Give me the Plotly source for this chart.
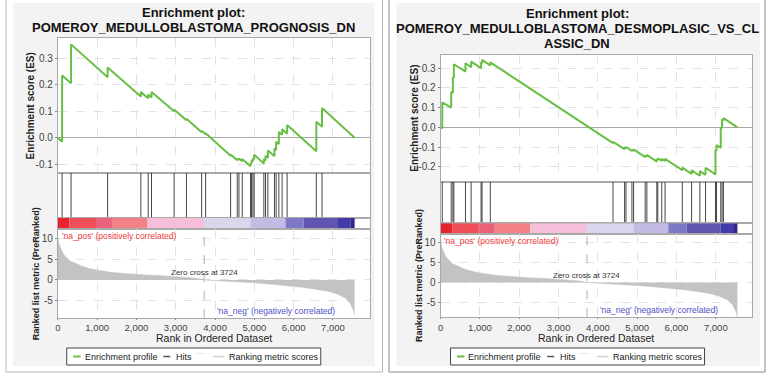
import plotly.graph_objects as go

W, H = 767, 379

# ---------------- data ----------------
n_genes = 7550
zero_cross = 3724

metric_rank = [0, 10, 30, 60, 100, 150, 210, 300, 465, 600, 800, 1000, 1400, 1800, 2240, 2700,
               3085, 3400, 3677, 3724, 4000, 4523, 5000, 5368, 5800, 6213, 6600, 6890, 7100,
               7313, 7420, 7482, 7520, 7550]
metric_value = [10.8, 9.8, 8.9, 8.0, 7.0, 6.2, 5.6, 4.7, 4.0, 3.4, 2.8, 2.4, 1.8, 1.45, 1.2, 1.0,
                0.8, 0.55, 0.2, 0.0, -0.15, -0.4, -0.7, -1.0, -1.35, -1.8, -2.3, -2.8, -3.4,
                -4.4, -5.4, -6.4, -7.3, -8.6]

cbar_start = [0, 296, 972, 1378, 2283, 3720, 4904, 5791, 6256, 7127, 7440]
cbar_end = [296, 972, 1378, 2283, 3720, 4904, 5791, 6256, 7127, 7440, 7550]
cbar_color = ["rgb(233,35,45)", "rgb(240,78,88)", "rgb(232,98,122)", "rgb(243,130,134)",
              "rgb(246,190,216)", "rgb(216,213,236)", "rgb(196,187,228)", "rgb(126,121,196)",
              "rgb(96,86,176)", "rgb(66,60,170)", "rgb(55,36,140)"]

left_title = ["Enrichment plot:", "POMEROY_MEDULLOBLASTOMA_PROGNOSIS_DN"]
left_hits = [110, 338, 1268, 2113, 2300, 2384, 2959, 3272, 3660, 3761, 4396, 4565, 4608, 4692,
             4903, 4928, 4963, 4996, 5242, 5284, 5344, 5512, 5554, 5623, 5706, 5833, 6576, 6721]
left_es_rank = [0, 110, 110, 338, 338, 1268, 1268, 2113, 2113, 2300, 2300, 2384, 2384, 2959, 2959,
                3272, 3272, 3660, 3660, 3761, 3761, 4396, 4396, 4565, 4565, 4608, 4608, 4692, 4692,
                4903, 4903, 4928, 4928, 4963, 4963, 4996, 4996, 5242, 5242, 5284, 5284, 5344, 5344,
                5512, 5512, 5554, 5554, 5623, 5623, 5706, 5706, 5833, 5833, 6576, 6576, 6721, 6721,
                7550]
left_es_value = [0.0, -0.015, 0.235, 0.205, 0.352, 0.228, 0.265, 0.155, 0.172, 0.149, 0.163, 0.152,
                 0.172, 0.100, 0.106, 0.066, 0.072, 0.021, 0.026, 0.013, 0.017, -0.068, -0.063,
                 -0.085, -0.078, -0.084, -0.078, -0.089, -0.080, -0.108, -0.095, -0.098, -0.085,
                 -0.090, -0.077, -0.081, -0.064, -0.097, -0.080, -0.086, -0.068, -0.076, -0.048,
                 -0.070, -0.040, -0.046, -0.015, -0.024, 0.022, 0.011, 0.032, 0.015, 0.048,
                 -0.051, 0.060, 0.041, 0.112, 0.0]

right_title = ["Enrichment plot:", "POMEROY_MEDULLOBLASTOMA_DESMOPLASIC_VS_CL", "ASSIC_DN"]
right_hits = [43, 271, 313, 338, 633, 777, 1030, 1055, 1265, 4386, 4680, 4716, 4867, 4909, 5204,
              5247, 5500, 5525, 5626, 5710, 6148, 6385, 6595, 6739, 6992, 7018, 7126, 7160, 7195]
right_es_rank = [0, 43, 43, 271, 271, 313, 313, 338, 338, 633, 633, 777, 777, 1030, 1030, 1055,
                 1055, 1265, 1265, 4386, 4386, 4680, 4680, 4716, 4716, 4867, 4867, 4909, 4909,
                 5204, 5204, 5247, 5247, 5500, 5500, 5525, 5525, 5626, 5626, 5710, 5710, 6148,
                 6148, 6385, 6385, 6595, 6595, 6739, 6739, 6992, 6992, 7018, 7018, 7126, 7126,
                 7160, 7160, 7195, 7195, 7550]
right_es_value = [0.0, -0.005, 0.127, 0.100, 0.180, 0.175, 0.255, 0.252, 0.320, 0.283, 0.325,
                  0.305, 0.333, 0.300, 0.330, 0.327, 0.342, 0.314, 0.330, -0.080, -0.074, -0.111,
                  -0.101, -0.106, -0.100, -0.120, -0.114, -0.120, -0.112, -0.151, -0.143, -0.149,
                  -0.140, -0.174, -0.162, -0.165, -0.157, -0.170, -0.160, -0.171, -0.160, -0.218,
                  -0.205, -0.236, -0.218, -0.246, -0.222, -0.241, -0.205, -0.239, -0.115, -0.118,
                  -0.090, -0.104, 0.000, -0.004, 0.040, 0.035, 0.047, 0.0]

x_tick_vals = [0, 1000, 2000, 3000, 4000, 5000, 6000, 7000]
x_tick_text = ["0", "1,000", "2,000", "3,000", "4,000", "5,000", "6,000", "7,000"]
left_es_ticks = [-0.1, 0.0, 0.1, 0.2, 0.3]
left_es_ticktext = ["-0.1", "0.0", "0.1", "0.2", "0.3"]
right_es_ticks = [-0.2, -0.1, 0.0, 0.1, 0.2, 0.3]
right_es_ticktext = ["-0.2", "-0.1", "0.0", "0.1", "0.2", "0.3"]
metric_ticks = [-5, 0, 5, 10]
metric_ticktext = ["-5", "0", "5", "10"]

legend_labels = ["Enrichment profile", "Hits", "", "Ranking metric scores"]

# ---------------- styling ----------------
FONT = "Liberation Sans"
GREEN = "#69bf44"
GRID = "#e2e2e2"
FRAME = "#a9a9a9"
X_RANGE = [0, 7930]

fig = go.Figure()
shapes = []
annotations = []


def px(x):
    return x / W


def py(y):
    return 1 - y / H


def ax_names(i):
    s = "" if i == 1 else str(i)
    return "xaxis" + s, "yaxis" + s, "x" + s, "y" + s


def add_panel(k, xpx, ypx, title_lines, title_y, title_cx, es_rank, es_val, hits,
              es_range, es_ticks, es_ticktext, met_range, es_title_x, met_title_x,
              legend_x0, frame_box, inner_box, frame_color):
    # frames (decorative)
    fx0, fy0, fx1, fy1 = frame_box
    shapes.append(dict(type="rect", xref="paper", yref="paper", x0=px(fx0), x1=px(fx1),
                       y0=py(fy1), y1=py(fy0), line=dict(color=frame_color, width=1),
                       fillcolor="white", layer="below"))
    ix0, iy0, ix1, iy1 = inner_box
    shapes.append(dict(type="rect", xref="paper", yref="paper", x0=px(ix0), x1=px(ix1),
                       y0=py(iy1), y1=py(iy0), line=dict(width=0),
                       fillcolor="#f3f3f3", layer="below"))

    ids = [k, k + 1, k + 2, k + 3]
    names = [ax_names(i) for i in ids]
    xdom = [px(xpx[0]), px(xpx[1])]
    for j, (xa, ya, xr, yr) in enumerate(names):
        y0, y1 = ypx[j], ypx[j + 1]
        shapes.append(dict(type="rect", xref=xr + " domain", yref=yr + " domain",
                           x0=0, x1=1, y0=0, y1=1, fillcolor="white",
                           line=dict(width=0), layer="below"))
        xaxis = dict(domain=xdom, anchor=yr, range=X_RANGE, showline=True, mirror=True,
                     linecolor=FRAME, linewidth=1, zeroline=False, showticklabels=False,
                     ticks="", showgrid=False, tickvals=x_tick_vals, fixedrange=True)
        yaxis = dict(domain=[py(y1), py(y0)], anchor=xr, showline=True, mirror=True,
                     linecolor=FRAME, linewidth=1, zeroline=False, showticklabels=False,
                     ticks="", showgrid=False, fixedrange=True)
        if j == 0:
            xaxis.update(showgrid=True, gridcolor=GRID, griddash="dash", gridwidth=1)
            yaxis.update(range=es_range, tickvals=es_ticks, ticktext=es_ticktext,
                         showticklabels=True, ticks="outside", ticklen=2, tickcolor="#888",
                         tickfont=dict(size=10, color="#444", family=FONT),
                         showgrid=True, gridcolor=GRID, griddash="dash",
                         zeroline=True, zerolinecolor="#a8a8a8", zerolinewidth=1)
        elif j in (1, 2):
            yaxis.update(range=[0, 1])
        else:
            xaxis.update(showgrid=True, gridcolor=GRID, griddash="dash", showticklabels=True,
                         ticktext=x_tick_text, ticks="outside", ticklen=1, tickcolor="#888",
                         tickfont=dict(size=9.5, color="#444", family=FONT))
            yaxis.update(range=met_range, tickvals=metric_ticks, ticktext=metric_ticktext,
                         showticklabels=True, ticks="outside", ticklen=2, tickcolor="#888",
                         tickfont=dict(size=10, color="#444", family=FONT),
                         showgrid=True, gridcolor=GRID, griddash="dash")
        fig.layout[xa] = xaxis
        fig.layout[ya] = yaxis

    # ES curve
    fig.add_trace(go.Scatter(x=es_rank, y=es_val, mode="lines", name="Enrichment profile",
                             line=dict(color=GREEN, width=2), xaxis=names[0][2],
                             yaxis=names[0][3], showlegend=False, hoverinfo="skip"))
    # hits
    hx, hy = [], []
    for r in hits:
        hx += [r, r, None]
        hy += [0.0, 1.0, None]
    fig.add_trace(go.Scatter(x=hx, y=hy, mode="lines", name="Hits",
                             line=dict(color="rgba(25,25,25,0.8)", width=1),
                             xaxis=names[1][2], yaxis=names[1][3], showlegend=False,
                             hoverinfo="skip"))
    # colour bar
    fig.add_trace(go.Bar(orientation="h", base=cbar_start,
                         x=[e - s for s, e in zip(cbar_start, cbar_end)],
                         y=[0.5] * len(cbar_start), width=1.0,
                         marker=dict(color=cbar_color, line=dict(width=0)),
                         xaxis=names[2][2], yaxis=names[2][3], showlegend=False,
                         hoverinfo="skip"))
    # ranked metric
    fig.add_trace(go.Scatter(x=metric_rank, y=metric_value, mode="lines", fill="tozeroy",
                             name="Ranking metric scores",
                             line=dict(color="#c3c3c3", width=0.5), fillcolor="#c3c3c3",
                             xaxis=names[3][2], yaxis=names[3][3], showlegend=False,
                             hoverinfo="skip"))
    fig.add_trace(go.Scatter(x=[zero_cross, zero_cross], y=met_range, mode="lines",
                             line=dict(color="#b0b0b0", width=1, dash="dash"),
                             xaxis=names[3][2], yaxis=names[3][3], showlegend=False,
                             hoverinfo="skip"))
    annotations.append(dict(x=zero_cross, y=1.8, xref=names[3][2], yref=names[3][3],
                            text="Zero cross at " + str(zero_cross), showarrow=False,
                            xanchor="center", yanchor="middle",
                            font=dict(size=8, color="#333", family=FONT)))
    annotations.append(dict(x=0.006, y=1.0, xref=names[3][2] + " domain",
                            yref=names[3][3] + " domain",
                            text="'na_pos' (positively correlated)", showarrow=False,
                            xanchor="left", yanchor="top",
                            font=dict(size=8.5, color="#f03a3a", family=FONT)))
    annotations.append(dict(x=0.505, y=0.0, xref=names[3][2] + " domain",
                            yref=names[3][3] + " domain",
                            text="'na_neg' (negatively correlated)", showarrow=False,
                            xanchor="left", yanchor="bottom",
                            font=dict(size=8.5, color="#5151c6", family=FONT)))

    # titles
    for line, ty in zip(title_lines, title_y):
        annotations.append(dict(x=px(title_cx), y=py(ty), xref="paper", yref="paper",
                                text="<b>" + line + "</b>", showarrow=False,
                                xanchor="center", yanchor="middle",
                                font=dict(size=13, color="#111", family=FONT)))
    annotations.append(dict(x=px(es_title_x), y=py((ypx[0] + ypx[1]) / 2), xref="paper",
                            yref="paper", text="<b>Enrichment score (ES)</b>",
                            textangle=-90, showarrow=False, xanchor="center",
                            yanchor="middle", font=dict(size=10, color="#222", family=FONT)))
    annotations.append(dict(x=px(met_title_x), y=py((ypx[3] + ypx[4]) / 2), xref="paper",
                            yref="paper", text="<b>Ranked list metric (PreRanked)</b>",
                            textangle=-90, showarrow=False, xanchor="center",
                            yanchor="middle", font=dict(size=9, color="#222", family=FONT)))
    annotations.append(dict(x=px((xpx[0] + xpx[1]) / 2), y=py(338), xref="paper",
                            yref="paper", text="Rank in Ordered Dataset", showarrow=False,
                            xanchor="center", yanchor="middle",
                            font=dict(size=10.5, color="#222", family=FONT)))

    # legend box (drawn)
    lx = legend_x0
    shapes.append(dict(type="rect", xref="paper", yref="paper", x0=px(lx), x1=px(lx + 255),
                       y0=py(365), y1=py(348), line=dict(color="#444", width=1),
                       fillcolor="white", layer="above"))
    ly = 356.5
    items = [(6.5, 14, GREEN, 2, 16, legend_labels[0]),
             (97, 104, "#555", 1.5, 108, legend_labels[1]),
             (129, 139, "#ececec", 1.5, None, legend_labels[2]),
             (147, 158, "#d0d0d0", 1.5, 161, legend_labels[3])]
    for a, b, col, wdt, tx, lab in items:
        yy = ly - 3 if tx is None else ly
        shapes.append(dict(type="line", xref="paper", yref="paper", x0=px(lx + a),
                           x1=px(lx + b), y0=py(yy), y1=py(yy),
                           line=dict(color=col, width=wdt), layer="above"))
        if tx is not None:
            annotations.append(dict(x=px(lx + tx), y=py(ly), xref="paper", yref="paper",
                                    text=lab, showarrow=False, xanchor="left",
                                    yanchor="middle",
                                    font=dict(size=9, color="#222", family=FONT)))


add_panel(1, (55, 368), (38, 173, 218, 229, 318), left_title, (12, 27), 191,
          left_es_rank, left_es_value, left_hits, [-0.133, 0.376], left_es_ticks,
          left_es_ticktext, [-9.25, 12.4], 28, 33, 64,
          (3, -3, 381, 372), (10, 3, 373, 366), "#b8b8b8")
add_panel(5, (439.3, 752.3), (55, 181.7, 223.3, 234, 317.3), right_title, (13, 28, 43), 576.5,
          right_es_rank, right_es_value, right_hits, [-0.276, 0.367], right_es_ticks,
          right_es_ticktext, [-8.6, 12.05], 413, 417, 449.3,
          (387.5, -3, 765, 372), (395, 3, 760, 366), "#8a8a8a")

fig.update_layout(width=W, height=H, autosize=False, margin=dict(l=0, r=0, t=0, b=0),
                  paper_bgcolor="white", plot_bgcolor="rgba(0,0,0,0)", showlegend=False,
                  barmode="overlay", shapes=shapes, annotations=annotations,
                  font=dict(family=FONT))

fig.write_html("out.html", config={"displayModeBar": False},
               post_script="document.body.style.margin='0';document.body.style.padding='0';")
